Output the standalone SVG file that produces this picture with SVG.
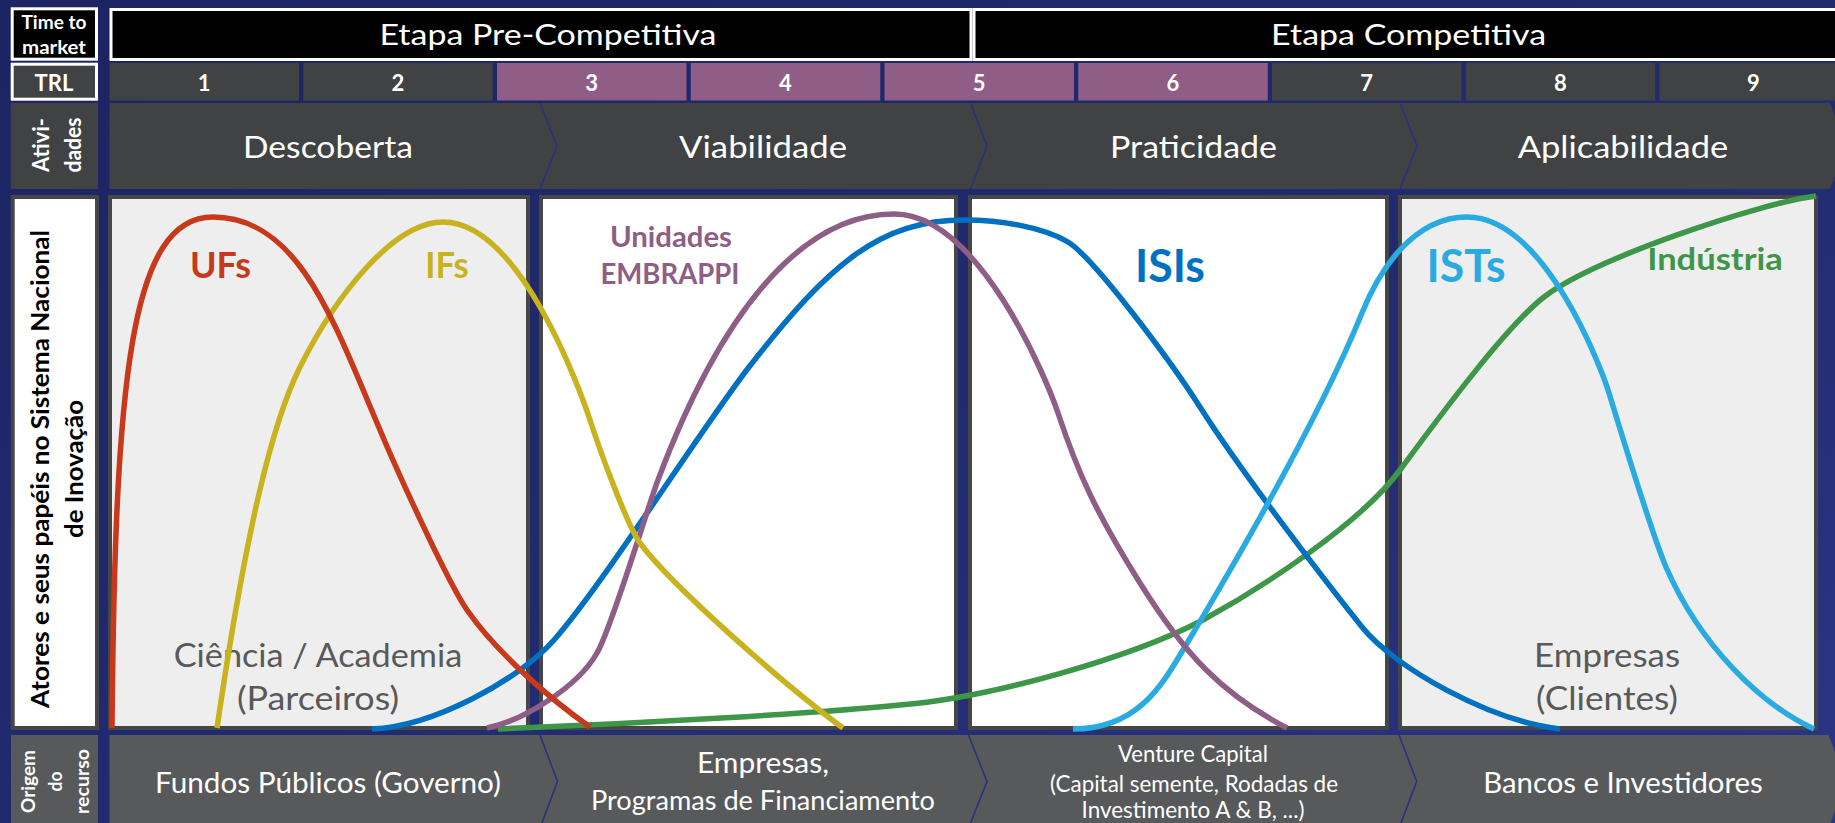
<svg xmlns="http://www.w3.org/2000/svg" width="1835" height="823" viewBox="0 0 1835 823">
<defs>
<linearGradient id="bg" x1="0" y1="0" x2="1" y2="1">
<stop offset="0" stop-color="#1c2463"/>
<stop offset="0.55" stop-color="#212b70"/>
<stop offset="1" stop-color="#2a3686"/>
</linearGradient>
<style>
text{font-family:Lato,"Liberation Sans",sans-serif;}
.w{fill:#ffffff}
.bd{font-weight:700}
.hdr{fill:#000000;stroke:#ffffff;stroke-width:3}
.lab{fill:#404244}
.labw{fill:#404244;stroke:#ffffff;stroke-width:3}
.labb{fill:#58595b}
.chevTop{fill:#404244}
.chevBot{fill:#58595b}
.sep{fill:none;stroke:#28327c;stroke-width:1.5}
.cell{fill:#404244}
.cellp{fill:#8f5d86}
.panel{stroke:#464648;stroke-width:4}
.pg{fill:#eeeeee}
.pw{fill:#ffffff}
.curve{fill:none;stroke-width:5.5;stroke-linecap:butt;stroke-linejoin:round}
.gray{fill:#595959}
</style>
</defs>
<rect x="0" y="0" width="1835" height="823" fill="url(#bg)"/>

<g id="time-to-market">
<rect class="hdr" x="12.2" y="8.8" width="84.3" height="50.4"/>
<text class="w bd" x="54" y="28.5" font-size="19" text-anchor="middle" textLength="65" lengthAdjust="spacingAndGlyphs">Time to</text>
<text class="w bd" x="54" y="53.5" font-size="19" text-anchor="middle" textLength="64" lengthAdjust="spacingAndGlyphs">market</text>
</g>
<g id="etapa-pre">
<rect class="hdr" x="111" y="9.5" width="860" height="50"/>
<text class="w" x="548" y="45" font-size="28" text-anchor="middle" textLength="337" lengthAdjust="spacingAndGlyphs">Etapa Pre-Competitiva</text>
</g>
<g id="etapa-comp">
<rect class="hdr" x="974" y="9.5" width="880" height="50"/>
<text class="w" x="1408.6" y="45" font-size="28" text-anchor="middle" textLength="275" lengthAdjust="spacingAndGlyphs">Etapa Competitiva</text>
</g>

<g id="trl-label">
<rect class="labw" x="12.2" y="64.2" width="84.3" height="35"/>
<text class="w bd" x="54" y="90.5" font-size="22" text-anchor="middle">TRL</text>
</g>
<g id="trl-cells">
<rect class="cell" x="109.5" y="63" width="189.5" height="37.5"/>
<rect class="cell" x="303.25" y="63" width="189.5" height="37.5"/>
<rect class="cellp" x="497" y="63" width="189.5" height="37.5"/>
<rect class="cellp" x="690.75" y="63" width="189.5" height="37.5"/>
<rect class="cellp" x="884.5" y="63" width="189.5" height="37.5"/>
<rect class="cellp" x="1078.25" y="63" width="189.5" height="37.5"/>
<rect class="cell" x="1272" y="63" width="189.5" height="37.5"/>
<rect class="cell" x="1465.75" y="63" width="189.5" height="37.5"/>
<rect class="cell" x="1659.5" y="63" width="189.5" height="37.5"/>
<g class="w bd" font-size="22" text-anchor="middle">
<text x="204.25" y="90.5">1</text>
<text x="398" y="90.5">2</text>
<text x="591.75" y="90.5">3</text>
<text x="785.5" y="90.5">4</text>
<text x="979.25" y="90.5">5</text>
<text x="1173" y="90.5">6</text>
<text x="1366.75" y="90.5">7</text>
<text x="1560.5" y="90.5">8</text>
<text x="1753.5" y="90.5">9</text>
</g>
</g>

<g id="atividades-label">
<rect class="lab" x="10.7" y="103" width="87.3" height="86"/>
<text class="w bd" transform="translate(49,145) rotate(-90)" font-size="23" text-anchor="middle" textLength="54" lengthAdjust="spacingAndGlyphs">Ativi-</text>
<text class="w bd" transform="translate(81,145) rotate(-90)" font-size="23" text-anchor="middle" textLength="55" lengthAdjust="spacingAndGlyphs">dades</text>
</g>
<g id="act-descoberta">
<path class="chevTop" d="M109.5,103 H540 L557,146 L540,189 H109.5 Z"/>
<text class="w" x="328" y="158.3" font-size="31" text-anchor="middle" textLength="170" lengthAdjust="spacingAndGlyphs">Descoberta</text>
</g>
<g id="act-viabilidade">
<path class="chevTop" d="M540,103 H970.5 L987,146 L970.5,189 H540 L557,146 Z"/>
<text class="w" x="763" y="158.3" font-size="31" text-anchor="middle" textLength="168" lengthAdjust="spacingAndGlyphs">Viabilidade</text>
</g>
<g id="act-praticidade">
<path class="chevTop" d="M970.5,103 H1400 L1417,146 L1400,189 H970.5 L987,146 Z"/>
<text class="w" x="1193.5" y="158.3" font-size="31" text-anchor="middle" textLength="167" lengthAdjust="spacingAndGlyphs">Praticidade</text>
</g>
<g id="act-aplicabilidade">
<path class="chevTop" d="M1400,103 H1830 L1847,146 L1830,189 H1400 L1417,146 Z"/>
<text class="w" x="1623" y="158.3" font-size="31" text-anchor="middle" textLength="210.6" lengthAdjust="spacingAndGlyphs">Aplicabilidade</text>
</g>
<g id="act-separators">
<polyline class="sep" points="540,103 557,146 540,189"/>
<polyline class="sep" points="970.5,103 987,146 970.5,189"/>
<polyline class="sep" points="1400,103 1417,146 1400,189"/>
</g>

<g id="atores-label">
<rect x="12.7" y="197" width="84.3" height="531" fill="#ffffff" class="panel"/>
<text class="bd" fill="#000000" transform="translate(48.5,469) rotate(-90)" font-size="25" text-anchor="middle" textLength="478" lengthAdjust="spacingAndGlyphs">Atores e seus papéis no Sistema Nacional</text>
<text class="bd" fill="#000000" transform="translate(83,469) rotate(-90)" font-size="25" text-anchor="middle" textLength="138" lengthAdjust="spacingAndGlyphs">de Inovação</text>
</g>

<g id="panel-ciencia">
<rect class="panel pg" x="110" y="197" width="418" height="531"/>
<text class="gray" x="318" y="666.7" font-size="32" text-anchor="middle" textLength="288.6" lengthAdjust="spacingAndGlyphs">Ciência / Academia</text>
<text class="gray" x="318" y="710" font-size="32" text-anchor="middle" textLength="162" lengthAdjust="spacingAndGlyphs">(Parceiros)</text>
</g>
<g id="panel-2">
<rect class="panel pw" x="541" y="197" width="415" height="531"/>
</g>
<g id="panel-3">
<rect class="panel pw" x="970" y="197" width="417" height="531"/>
</g>
<g id="panel-empresas">
<rect class="panel pg" x="1400" y="197" width="416" height="531"/>
<text class="gray" x="1607" y="666.7" font-size="32" text-anchor="middle" textLength="146" lengthAdjust="spacingAndGlyphs">Empresas</text>
<text class="gray" x="1607" y="710" font-size="32" text-anchor="middle" textLength="142" lengthAdjust="spacingAndGlyphs">(Clientes)</text>
</g>

<g id="connectors">
<path id="curve-industria" class="curve" stroke="#3e9649" d="M498,729 C650,723 820,713 900,705 C990,698 1130,658 1203,620 C1263,587 1360,524 1400,470 C1430,429.5 1504,328 1544,297 C1594,258.5 1760,203 1816,196"/>
<path id="curve-isis" class="curve" stroke="#0070c0" d="M372,729 C432,727 519,680 554,640 C604,583 699,432 749,367 C830,263 880,220 965,220 C1000,220 1043,227 1068,242 C1093,257 1170,360 1200,407 C1240,470 1322,577 1362,627 C1395,668 1490,721 1560,729"/>
<path id="curve-ists" class="curve" stroke="#29abe2" d="M1073,729 C1135,729 1160,689 1183,650 C1243,550 1322,411 1362,313 C1378,273 1412,217 1467,217 C1545,217 1602,370 1609,393 C1627,452 1654,539 1666,567 C1700,645 1760,704 1814,729"/>
<path id="curve-embrappi" class="curve" stroke="#8e5e86" d="M487,728 C522,721 577,688 597,653 C612,627 646,512 658,480 C720,315 800,214 894,214 C980,214 1048,383 1058,413 C1078,473 1095,511 1140,583 C1185,655 1222,694 1287,728"/>
<path id="curve-ifs" class="curve" stroke="#c8b21e" d="M217,728 C246,530 272,423 300,367 C335,297 393,222 443,222 C520,222 580,390 590,420 C600,451 628,527 640,543 C670,584 783,684 843,728"/>
<path id="curve-ufs" class="curve" stroke="#c8381a" d="M112,728 C115,380 130,217 213,217 C300,217 335,325 380,430 C395,466 447,581 467,610 C497,653 550,699 590,727"/>
</g>

<g id="label-ufs"><text class="bd" fill="#c8381a" x="220.5" y="278.3" font-size="37" text-anchor="middle" textLength="61" lengthAdjust="spacingAndGlyphs">UFs</text></g>
<g id="label-ifs"><text class="bd" fill="#c8b21e" x="447" y="278.3" font-size="37" text-anchor="middle" textLength="43.5" lengthAdjust="spacingAndGlyphs">IFs</text></g>
<g id="label-embrappi">
<text class="bd" fill="#8e5e86" x="671" y="246.7" font-size="28" text-anchor="middle" textLength="122" lengthAdjust="spacingAndGlyphs">Unidades</text>
<text class="bd" fill="#8e5e86" x="670" y="284" font-size="28" text-anchor="middle" textLength="139" lengthAdjust="spacingAndGlyphs">EMBRAPPI</text>
</g>
<g id="label-isis"><text class="bd" fill="#0070c0" x="1170" y="281.7" font-size="46" text-anchor="middle" textLength="70" lengthAdjust="spacingAndGlyphs">ISIs</text></g>
<g id="label-ists"><text class="bd" fill="#29abe2" x="1466" y="281.7" font-size="46" text-anchor="middle" textLength="79" lengthAdjust="spacingAndGlyphs">ISTs</text></g>
<g id="label-industria"><text class="bd" fill="#3e9649" x="1715" y="270" font-size="30" text-anchor="middle" textLength="135.6" lengthAdjust="spacingAndGlyphs">Indústria</text></g>

<g id="origem-label">
<rect class="labb" x="11" y="735" width="87" height="95"/>
<text class="w bd" transform="translate(35,781.5) rotate(-90)" font-size="19" text-anchor="middle" textLength="63" lengthAdjust="spacingAndGlyphs">Origem</text>
<text class="w bd" transform="translate(62,781.5) rotate(-90)" font-size="19" text-anchor="middle" textLength="20" lengthAdjust="spacingAndGlyphs">do</text>
<text class="w bd" transform="translate(89,781.5) rotate(-90)" font-size="19" text-anchor="middle" textLength="65" lengthAdjust="spacingAndGlyphs">recurso</text>
</g>
<g id="rec-fundos">
<path class="chevBot" d="M109.5,735 H540 L557.5,781.5 L540,828 H109.5 Z"/>
<text class="w" x="328" y="793.3" font-size="28" text-anchor="middle" textLength="346" lengthAdjust="spacingAndGlyphs">Fundos Públicos (Governo)</text>
</g>
<g id="rec-empresas">
<path class="chevBot" d="M540,735 H968.5 L987,781.5 L968.5,828 H540 L557.5,781.5 Z"/>
<text class="w" x="763" y="773.3" font-size="28" text-anchor="middle" textLength="132" lengthAdjust="spacingAndGlyphs">Empresas,</text>
<text class="w" x="763" y="810" font-size="26" text-anchor="middle" textLength="344" lengthAdjust="spacingAndGlyphs">Programas de Financiamento</text>
</g>
<g id="rec-venture">
<path class="chevBot" d="M968.5,735 H1399 L1416.7,781.5 L1399,828 H968.5 L987,781.5 Z"/>
<text class="w" x="1193" y="761.7" font-size="23" text-anchor="middle" textLength="150" lengthAdjust="spacingAndGlyphs">Venture Capital</text>
<text class="w" x="1194" y="791.7" font-size="23" text-anchor="middle" textLength="288" lengthAdjust="spacingAndGlyphs">(Capital semente, Rodadas de</text>
<text class="w" x="1193" y="818" font-size="23" text-anchor="middle" textLength="223" lengthAdjust="spacingAndGlyphs">Investimento A &amp; B, ...)</text>
</g>
<g id="rec-bancos">
<path class="chevBot" d="M1399,735 H1828.6 L1846,781.5 L1828.6,828 H1399 L1416.7,781.5 Z"/>
<text class="w" x="1623" y="792.7" font-size="28" text-anchor="middle" textLength="279.5" lengthAdjust="spacingAndGlyphs">Bancos e Investidores</text>
</g>
<g id="rec-separators">
<polyline class="sep" points="540,735 557.5,781.5 540,828"/>
<polyline class="sep" points="968.5,735 987,781.5 968.5,828"/>
<polyline class="sep" points="1399,735 1416.7,781.5 1399,828"/>
</g>
</svg>
